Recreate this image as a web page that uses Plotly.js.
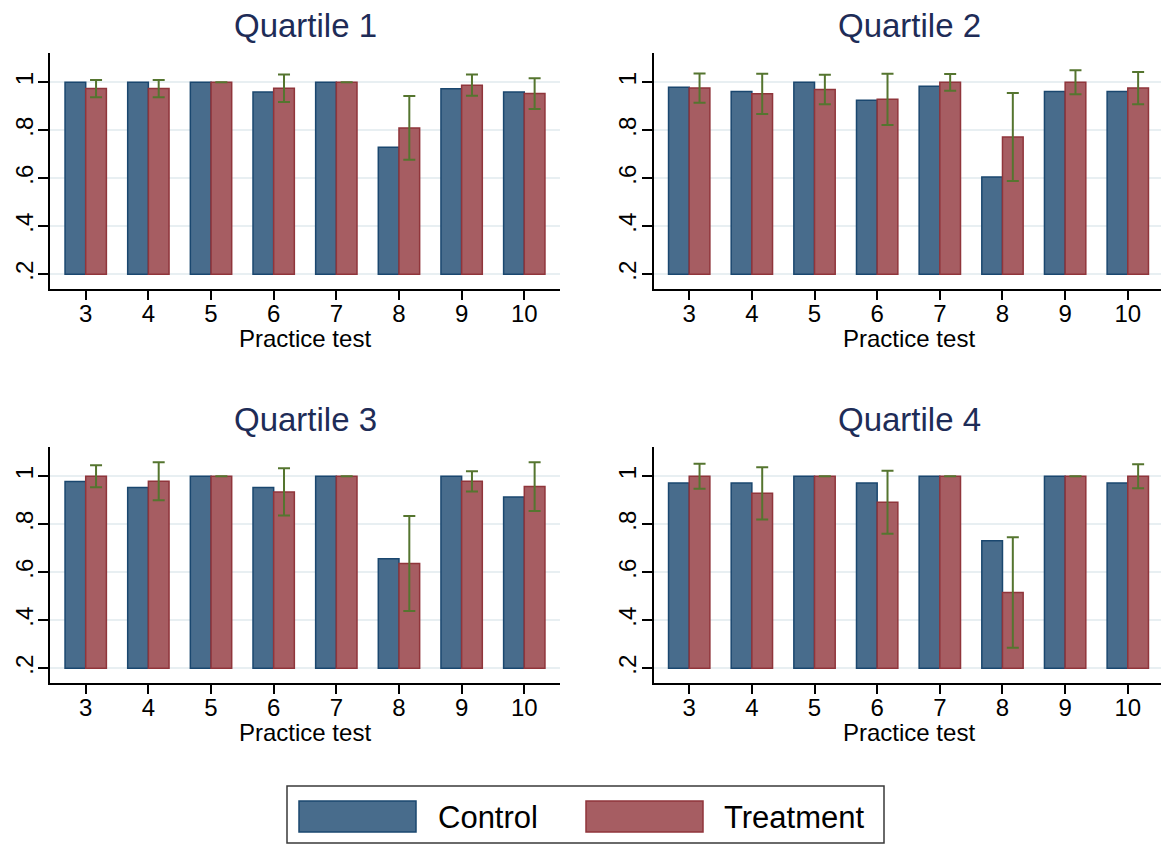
<!DOCTYPE html>
<html>
<head>
<meta charset="utf-8">
<script src="https://cdn.plot.ly/plotly-3.0.1.min.js"></script>
<style>
  html, body { margin: 0; padding: 0; background: #ffffff; }
  #chart { width: 1161px; height: 844px; }
</style>
</head>
<body>
<div id="chart"></div>
<script>
// Practice tests shown on the x axis
const tests = [3, 4, 5, 6, 7, 8, 9, 10];

// Share of students, by quartile and group
const q1Control   = [1.000, 1.000, 1.000, 0.960, 1.000, 0.729, 0.973, 0.960];
const q1Treatment = [0.974, 0.974, 1.000, 0.975, 1.000, 0.810, 0.988, 0.953];
const q1TreatCI   = [0.036, 0.036, 0.000, 0.057, 0.000, 0.133, 0.044, 0.064];

const q2Control   = [0.979, 0.962, 1.000, 0.925, 0.983, 0.605, 0.962, 0.962];
const q2Treatment = [0.976, 0.952, 0.970, 0.929, 1.000, 0.772, 1.000, 0.976];
const q2TreatCI   = [0.061, 0.084, 0.061, 0.107, 0.035, 0.183, 0.050, 0.067];

const q3Control   = [0.978, 0.953, 1.000, 0.953, 1.000, 0.657, 1.000, 0.914];
const q3Treatment = [1.000, 0.979, 1.000, 0.935, 1.000, 0.637, 0.979, 0.957];
const q3TreatCI   = [0.046, 0.079, 0.000, 0.098, 0.000, 0.198, 0.042, 0.102];

const q4Control   = [0.972, 0.972, 1.000, 0.972, 1.000, 0.731, 1.000, 0.972];
const q4Treatment = [1.000, 0.929, 1.000, 0.892, 1.000, 0.516, 1.000, 1.000];
const q4TreatCI   = [0.052, 0.109, 0.000, 0.131, 0.000, 0.230, 0.000, 0.050];

const panelTitles = ['Quartile 1', 'Quartile 2', 'Quartile 3', 'Quartile 4'];
const groupNames  = ['Control', 'Treatment'];
const yTickVals   = [0.2, 0.4, 0.6, 0.8, 1];
const yTickText   = ['.2', '.4', '.6', '.8', '1'];
const xTitle      = 'Practice test';

const panels = [
  { ctrl: q1Control, trt: q1Treatment, ci: q1TreatCI },
  { ctrl: q2Control, trt: q2Treatment, ci: q2TreatCI },
  { ctrl: q3Control, trt: q3Treatment, ci: q3TreatCI },
  { ctrl: q4Control, trt: q4Treatment, ci: q4TreatCI }
];

// Page geometry (pixels)
const W = 1161, H = 844;
const FONT = 'Liberation Sans, Arial, Helvetica, sans-serif';
const BASE = 0.2;          // bars rise from .2
const NAVY = '#1a476f', NAVY_FILL = '#486c8c';
const MAROON = '#90353b', MAROON_FILL = '#a65d62';
const GREEN = '#55752f';

const px = x => x / W;
const py = y => 1 - y / H;

// plot regions: [left, right] and [top, bottom] in pixels
const cols = [
  { l: 50,    r: 560,  rangeX: [2.43, 10.57] },
  { l: 653.5, r: 1161, rangeX: [2.43, 10.53] }
];
const rows = [
  { t: 53,  b: 289, rangeY: [0.139, 1.122] },
  { t: 447, b: 683, rangeY: [0.139, 1.122] }
];

const data = [];
const layout = {
  width: W, height: H,
  margin: { l: 0, r: 0, t: 0, b: 0 },
  paper_bgcolor: '#ffffff',
  plot_bgcolor: '#ffffff',
  barmode: 'group',
  bargap: 0.34,
  bargroupgap: 0,
  showlegend: false,
  font: { family: FONT, color: '#000000' },
  annotations: [],
  shapes: []
};

panels.forEach((p, i) => {
  const col = cols[i % 2], row = rows[Math.floor(i / 2)];
  const n = i + 1;
  const xa = 'x' + (n === 1 ? '' : n), ya = 'y' + (n === 1 ? '' : n);

  data.push({
    type: 'bar', name: groupNames[0], x: tests,
    y: p.ctrl.map(v => v - BASE), base: BASE,
    xaxis: xa, yaxis: ya,
    marker: { color: NAVY_FILL, line: { color: NAVY, width: 1.5 } },
    hovertemplate: '%{x}: %{customdata:.3f}<extra>Control</extra>',
    customdata: p.ctrl
  });
  data.push({
    type: 'bar', name: groupNames[1], x: tests,
    y: p.trt.map(v => v - BASE), base: BASE,
    xaxis: xa, yaxis: ya,
    marker: { color: MAROON_FILL, line: { color: MAROON, width: 1.5 } },
    error_y: { type: 'data', array: p.ci, visible: true, color: GREEN, thickness: 2, width: 6 },
    hovertemplate: '%{x}: %{customdata:.3f}<extra>Treatment</extra>',
    customdata: p.trt
  });

  const xKey = 'xaxis' + (n === 1 ? '' : n), yKey = 'yaxis' + (n === 1 ? '' : n);
  layout[xKey] = {
    domain: [px(col.l), px(col.r)],
    anchor: ya,
    range: col.rangeX,
    tickvals: tests,
    ticktext: tests.map(String),
    ticks: 'outside', ticklen: 9, tickwidth: 1.5, tickcolor: '#000000',
    ticklabelstandoff: -7,
    showline: true, linecolor: '#000000', linewidth: 1.5,
    showgrid: false, zeroline: false,
    tickfont: { family: FONT, size: 24, color: '#000000' },
    fixedrange: true
  };
  layout[yKey] = {
    domain: [py(row.b), py(row.t)],
    anchor: xa,
    range: row.rangeY,
    tickvals: yTickVals,
    ticktext: yTickText,
    tickangle: -90,
    ticks: 'outside', ticklen: 10, tickwidth: 1.5, tickcolor: '#000000',
    ticklabelstandoff: -4,
    showline: true, linecolor: '#000000', linewidth: 1.5,
    showgrid: true, gridcolor: '#e8eff2', gridwidth: 2,
    zeroline: false,
    tickfont: { family: FONT, size: 24, color: '#000000' },
    fixedrange: true
  };

  // panel title
  layout.annotations.push({
    text: panelTitles[i], xref: 'paper', yref: 'paper',
    x: px((col.l + col.r) / 2 + (i % 2 ? 2 : 0)), y: py(row.t - 28),
    xanchor: 'center', yanchor: 'middle', showarrow: false,
    font: { family: FONT, size: 33, color: '#1e2c57' }
  });
  // x-axis title
  layout.annotations.push({
    text: xTitle, xref: 'paper', yref: 'paper',
    x: px((col.l + col.r) / 2 + (i % 2 ? 2 : 0)), y: py(row.b + 49),
    xanchor: 'center', yanchor: 'middle', showarrow: false,
    font: { family: FONT, size: 24, color: '#000000' }
  });
});

// Legend box with the two group keys
layout.shapes.push({
  type: 'rect', xref: 'paper', yref: 'paper',
  x0: px(287), x1: px(884), y0: py(843), y1: py(786),
  line: { color: '#3a3a3a', width: 1.5 }, fillcolor: 'rgba(0,0,0,0)'
});
const keys = [
  { x0: 299, x1: 416, fill: NAVY_FILL, line: NAVY, tx: 436 },
  { x0: 586, x1: 703, fill: MAROON_FILL, line: MAROON, tx: 722 }
];
keys.forEach((k, j) => {
  layout.shapes.push({
    type: 'rect', xref: 'paper', yref: 'paper',
    x0: px(k.x0), x1: px(k.x1), y0: py(832), y1: py(801),
    line: { color: k.line, width: 1.5 }, fillcolor: k.fill
  });
  layout.annotations.push({
    text: groupNames[j], xref: 'paper', yref: 'paper',
    x: px(k.tx), y: py(817), xanchor: 'left', yanchor: 'middle',
    showarrow: false, font: { family: FONT, size: 31, color: '#000000' }
  });
});

Plotly.newPlot('chart', data, layout, { displayModeBar: false, staticPlot: false });
</script>
</body>
</html>
